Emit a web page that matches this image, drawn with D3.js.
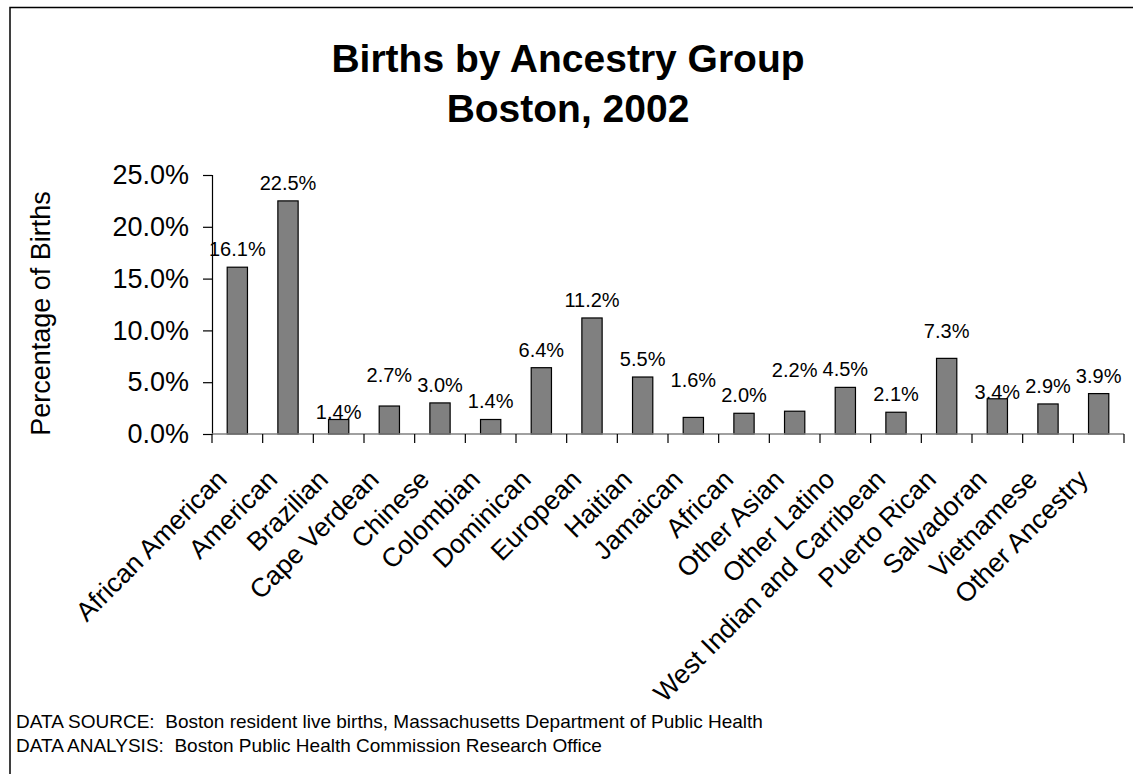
<!DOCTYPE html>
<html>
<head>
<meta charset="utf-8">
<script src="https://cdn.jsdelivr.net/npm/d3@7"></script>
<style>
  body { margin: 0; background: #fff; }
  svg { display: block; font-family: "Liberation Sans", Arial, sans-serif; }
  .note { white-space: pre; }
</style>
</head>
<body>
<svg id="chart" width="1133" height="774"></svg>
<script>
// chart data
const ancestry = ["African American", "American", "Brazilian", "Cape Verdean", "Chinese",
  "Colombian", "Dominican", "European", "Haitian", "Jamaican", "African", "Other Asian",
  "Other Latino", "West Indian and Carribean", "Puerto Rican", "Salvadoran", "Vietnamese",
  "Other Ancestry"];
const pctBirths = [16.1, 22.5, 1.4, 2.7, 3.0, 1.4, 6.4, 11.2, 5.5, 1.6, 2.0, 2.2, 4.5, 2.1,
  7.3, 3.4, 2.9, 3.9];
const yTicks = [0, 5, 10, 15, 20, 25];
const titleLines = ["Births by Ancestry Group", "Boston, 2002"];
const footnotes = [
  "DATA SOURCE:  Boston resident live births, Massachusetts Department of Public Health",
  "DATA ANALYSIS:  Boston Public Health Commission Research Office"
];

// a few data labels were dragged by hand in the original (pixels, + is up)
const labelLift = [0, 0, -11, 13, 0, 0, 0, 0, 0, 19, 0, 23, 0, 0, 9, -11, 0, 0];

const svg = d3.select("#chart");
const plot = { left: 212, right: 1124, top: 175, bottom: 434 };

svg.append("rect").attr("width", 1133).attr("height", 774).attr("fill", "#fff");

// frame (top and left edges are visible)
svg.append("path")
  .attr("d", "M10,774V7.5H1133")
  .attr("fill", "none")
  .attr("stroke", "#000")
  .attr("stroke-width", 1.5);

// title
svg.append("g").selectAll("text")
  .data(titleLines)
  .join("text")
  .attr("x", 568)
  .attr("y", (d, i) => 72 + i * 50)
  .attr("text-anchor", "middle")
  .attr("font-size", 39)
  .attr("font-weight", "bold")
  .text(d => d);

const x = d3.scaleBand()
  .domain(ancestry)
  .range([plot.left, plot.right])
  .paddingInner(0.6)
  .paddingOuter(0.3);

const y = d3.scaleLinear()
  .domain([0, 25])
  .range([plot.bottom, plot.top]);

// y axis
const yAxis = svg.append("g")
  .attr("transform", `translate(${plot.left},0)`)
  .call(d3.axisLeft(y)
    .tickValues(yTicks)
    .tickFormat(d => d.toFixed(1) + "%")
    .tickSize(9)
    .tickPadding(14));
yAxis.select(".domain").attr("stroke", "#000").attr("stroke-width", 1.2);
yAxis.selectAll(".tick line").attr("stroke", "#000").attr("stroke-width", 1.2);
yAxis.selectAll(".tick text")
  .attr("font-size", 27)
  .attr("font-family", "Liberation Sans, Arial, sans-serif")
  .attr("fill", "#000");

svg.append("text")
  .attr("transform", `translate(50,${(plot.top + plot.bottom) / 2 + 9}) rotate(-90)`)
  .attr("text-anchor", "middle")
  .attr("font-size", 27)
  .text("Percentage of Births");

// bars
svg.append("g").selectAll("rect")
  .data(pctBirths)
  .join("rect")
  .attr("x", (d, i) => x(ancestry[i]))
  .attr("y", d => y(d))
  .attr("width", x.bandwidth())
  .attr("height", d => y(0) - y(d))
  .attr("fill", "#808080")
  .attr("stroke", "#000")
  .attr("stroke-width", 1.2);

// data labels
svg.append("g").selectAll("text")
  .data(pctBirths)
  .join("text")
  .attr("x", (d, i) => x(ancestry[i]) + x.bandwidth() / 2)
  .attr("y", (d, i) => y(d) - 11 - labelLift[i])
  .attr("text-anchor", "middle")
  .attr("font-size", 20)
  .text(d => d.toFixed(1) + "%");

// x axis: line, ticks between the categories, slanted names
const step = x.step();
const xAxis = svg.append("g");
xAxis.append("line")
  .attr("x1", plot.left).attr("x2", plot.right)
  .attr("y1", plot.bottom).attr("y2", plot.bottom)
  .attr("stroke", "#808080")
  .attr("stroke-width", 1.5);
xAxis.selectAll(".sep")
  .data(d3.range(ancestry.length + 1))
  .join("line")
  .attr("class", "sep")
  .attr("x1", i => plot.left + i * step)
  .attr("x2", i => plot.left + i * step)
  .attr("y1", plot.bottom)
  .attr("y2", plot.bottom + 9)
  .attr("stroke", "#000")
  .attr("stroke-width", 1.2);
xAxis.selectAll(".name")
  .data(ancestry)
  .join("text")
  .attr("class", "name")
  .attr("transform", d => `translate(${x(d) + x.bandwidth() / 2 - 9},${plot.bottom + 47}) rotate(-45)`)
  .attr("text-anchor", "end")
  .attr("font-size", 26.5)
  .text(d => d);

// footnotes
svg.append("g").selectAll("text")
  .data(footnotes)
  .join("text")
  .attr("class", "note")
  .attr("x", 16)
  .attr("y", (d, i) => 728 + i * 23.5)
  .attr("font-size", 19)
  .text(d => d);
</script>
</body>
</html>
